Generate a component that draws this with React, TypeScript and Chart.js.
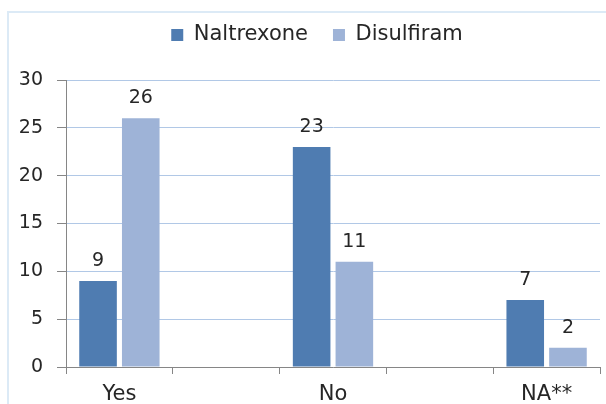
import React, { useEffect, useRef } from "react";
import { Chart, registerables } from "chart.js";

Chart.register(...registerables);

// Answer categories (blank slots keep the wide spacing between groups)
const categories: string[] = ["Yes", "", "No", "", "NA**"];
const naltrexone: (number | null)[] = [9, null, 23, null, 7];
const disulfiram: (number | null)[] = [26, null, 11, null, 2];
const yMin = 0;
const yMax = 30;
const yStep = 5;

const FONT = "'DejaVu Sans', Verdana, sans-serif";
const TEXT = "#262626";
const AXIS = "#868686";
const GRID = "#B1C8E6";
const DARK_BLUE = "#4F7CB1";
const LIGHT_BLUE = "#9EB3D7";

// Writes each bar's value above it
const valueLabels = {
  id: "valueLabels",
  afterDatasetsDraw(chart: any) {
    const ctx = chart.ctx as CanvasRenderingContext2D;
    ctx.save();
    ctx.font = `19px ${FONT}`;
    ctx.fillStyle = TEXT;
    ctx.textAlign = "center";
    ctx.textBaseline = "alphabetic";
    chart.data.datasets.forEach((ds: any, di: number) => {
      const meta = chart.getDatasetMeta(di);
      meta.data.forEach((bar: any, i: number) => {
        const v = ds.data[i];
        if (v == null) return;
        ctx.fillText(String(v), bar.x, bar.y - 15);
      });
    });
    ctx.restore();
  },
};

// Nudges the legend block up and right of its default slot
const legendOffset = {
  id: "legendOffset",
  afterLayout(chart: any) {
    const lg = chart.legend;
    if (!lg) return;
    const dx = 17;
    const dy = -24.5;
    lg.left += dx;
    lg.right += dx;
    lg.top += dy;
    lg.bottom += dy;
  },
};

export default function App() {
  const canvasRef = useRef<HTMLCanvasElement | null>(null);

  useEffect(() => {
    if (!canvasRef.current) return;
    const chart = new Chart(canvasRef.current, {
      type: "bar",
      data: {
        labels: categories,
        datasets: [
          {
            label: "Naltrexone",
            data: naltrexone,
            backgroundColor: DARK_BLUE,
            borderWidth: 0,
            categoryPercentage: 0.8,
            barPercentage: 0.88,
          },
          {
            label: "Disulfiram",
            data: disulfiram,
            backgroundColor: LIGHT_BLUE,
            borderWidth: 0,
            categoryPercentage: 0.8,
            barPercentage: 0.88,
          },
        ],
      },
      options: {
        responsive: false,
        animation: false,
        devicePixelRatio: 1,
        layout: { padding: { left: 0, right: 6, top: 0, bottom: 0 } },
        plugins: {
          legend: {
            position: "top",
            labels: {
              boxWidth: 12,
              boxHeight: 12,
              padding: 25,
              color: TEXT,
              font: { family: FONT, size: 21 },
            },
          },
          tooltip: { enabled: false },
        },
        scales: {
          x: {
            offset: true,
            grid: {
              offset: true,
              drawOnChartArea: false,
              tickLength: 7,
              tickColor: AXIS,
            },
            border: { color: AXIS, z: 1 },
            ticks: {
              color: TEXT,
              font: { family: FONT, size: 21 },
              padding: 8,
              maxRotation: 0,
              autoSkip: false,
            },
            afterFit: (s: any) => {
              s.height = 37;
              s.paddingLeft = 0;
              s.paddingRight = 0;
            },
          },
          y: {
            min: yMin,
            max: yMax,
            ticks: {
              stepSize: yStep,
              color: TEXT,
              font: { family: FONT, size: 19 },
              padding: 14,
            },
            grid: { color: GRID, tickColor: AXIS, tickLength: 9 },
            border: { color: AXIS, z: 1 },
            afterFit: (s: any) => {
              s.width = 66;
              s.paddingTop = 80;
              s.paddingBottom = 0;
            },
          },
        },
      },
      plugins: [valueLabels, legendOffset],
    } as any);
    return () => chart.destroy();
  }, []);

  return (
    <div
      style={{
        position: "fixed",
        left: 0,
        top: 0,
        width: 606,
        height: 404,
        overflow: "hidden",
        background: "#ffffff",
      }}
    >
      <div
        style={{
          position: "absolute",
          left: 7,
          top: 11,
          width: 700,
          height: 500,
          border: "2px solid #DCEAF6",
        }}
      />
      <canvas
        ref={canvasRef}
        width={606}
        height={404}
        style={{ position: "absolute", left: 0, top: 0, width: 606, height: 404 }}
      />
    </div>
  );
}
